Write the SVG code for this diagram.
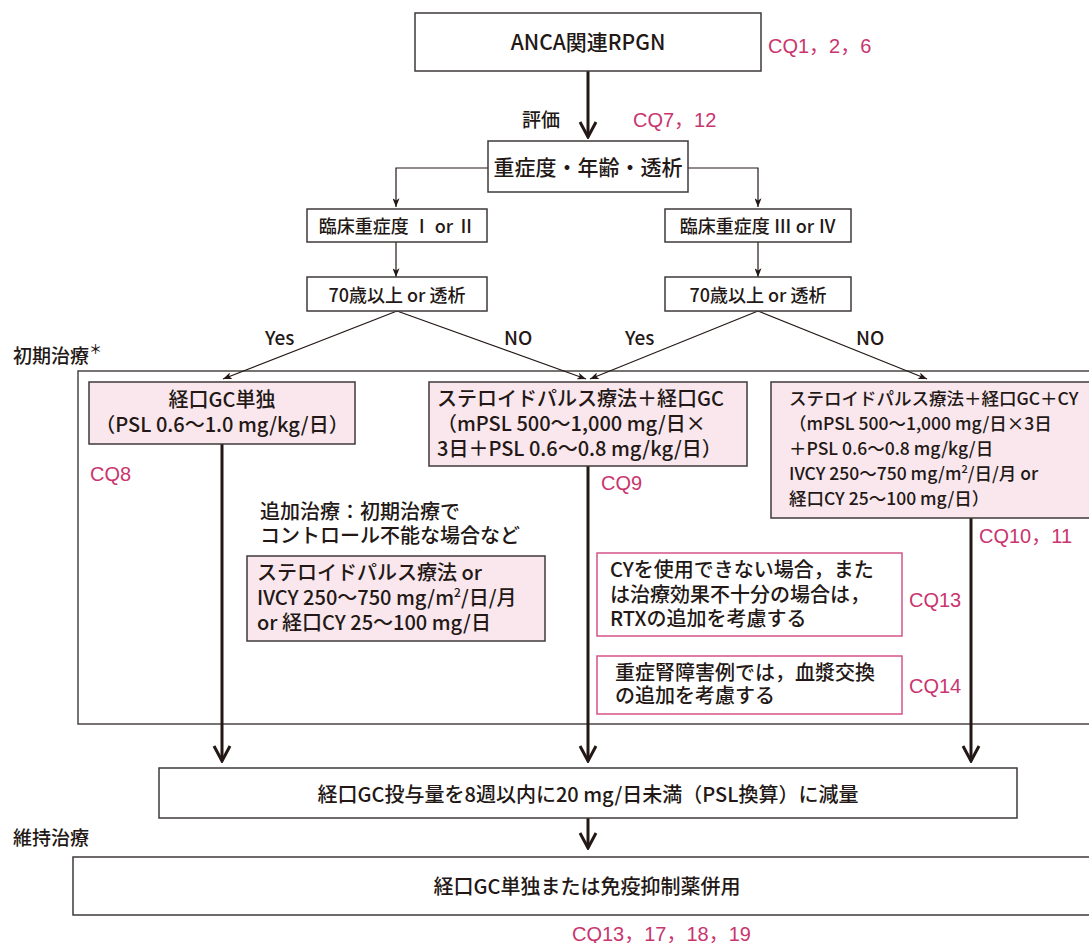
<svg xmlns="http://www.w3.org/2000/svg" width="1089" height="943" viewBox="0 0 1089 943">
<style>
text{font-family:"Noto Sans CJK JP","Liberation Sans",sans-serif;fill:#231815;font-weight:500;}
.t20{font-size:20px;}
.t21{font-size:21px;}
.t19{font-size:19px;}
.t18{font-size:18px;}
.t17{font-size:17.5px;}
.c{text-anchor:middle;}
.cq{font-family:"Liberation Sans","Noto Sans CJK JP",sans-serif;font-size:20px;fill:#c9356e;font-weight:normal;}
.box{fill:#ffffff;stroke:#3e3a39;stroke-width:1.5;}
.pink{fill:#f9e7ed;stroke:#3e3a39;stroke-width:1.5;}
.red{fill:#ffffff;stroke:#d6538a;stroke-width:1.5;}
.frame{fill:none;stroke:#4a4544;stroke-width:1.5;}
.thin{fill:none;stroke:#231815;stroke-width:1.2;}
.thick{fill:none;stroke:#231815;stroke-width:3;}
</style>
<defs>
<marker id="ah" viewBox="0 0 10 8" refX="10" refY="4" markerWidth="10" markerHeight="7" orient="auto" markerUnits="userSpaceOnUse">
<path d="M0,0 L10,4 L0,8 L2.5,4 z" fill="#231815"/>
</marker>
<marker id="chev" viewBox="-1 -1 18 20" refX="15" refY="9" markerWidth="18" markerHeight="20" orient="auto" markerUnits="userSpaceOnUse">
<path d="M0,1 L15,9 L0,17" fill="none" stroke="#231815" stroke-width="3"/>
</marker>
</defs>

<g id="frame-initial">
<path class="frame" d="M1095,371 H78 V724 H1095"/>
<text class="t19" x="13" y="363">初期治療<tspan font-size="13" dy="-9">＊</tspan></text>
</g>

<g id="connectors">
<line class="thick" x1="588" y1="71" x2="588" y2="137" marker-end="url(#chev)"/>
<polyline class="thin" points="488,168 396,168 396,207" marker-end="url(#ah)"/>
<polyline class="thin" points="688,168 758,168 758,207" marker-end="url(#ah)"/>
<line class="thin" x1="396" y1="242" x2="396" y2="277" marker-end="url(#ah)"/>
<line class="thin" x1="758" y1="242" x2="758" y2="277" marker-end="url(#ah)"/>
<line class="thin" x1="397" y1="311" x2="223" y2="379" marker-end="url(#ah)"/>
<line class="thin" x1="397" y1="311" x2="586" y2="379" marker-end="url(#ah)"/>
<line class="thin" x1="758" y1="311" x2="590" y2="379" marker-end="url(#ah)"/>
<line class="thin" x1="758" y1="311" x2="927" y2="379" marker-end="url(#ah)"/>
<line class="thick" x1="222" y1="444" x2="222" y2="761" marker-end="url(#chev)"/>
<line class="thick" x1="588" y1="466" x2="588" y2="761" marker-end="url(#chev)"/>
<line class="thick" x1="971" y1="518" x2="971" y2="761" marker-end="url(#chev)"/>
<line class="thick" x1="588" y1="818" x2="588" y2="848" marker-end="url(#chev)"/>
<text class="t19" x="522" y="127">評価</text>
<text class="t19" x="265" y="345">Yes</text>
<text class="t19" x="504" y="345">NO</text>
<text class="t19" x="625" y="345">Yes</text>
<text class="t19" x="856" y="345">NO</text>
</g>

<g id="n-anca">
<rect class="box" x="415" y="13" width="346" height="58"/>
<text class="t21 c" x="588" y="50">ANCA関連RPGN</text>
<text class="cq" x="768" y="53">CQ1，2，6</text>
</g>

<g id="cq7">
<text class="cq" x="633" y="127">CQ7，12</text>
</g>

<g id="n-eval">
<rect class="box" x="488" y="141" width="200" height="51"/>
<text class="t21 c" x="588" y="175">重症度・年齢・透析</text>
</g>

<g id="n-sev12">
<rect class="box" x="307" y="209" width="180" height="33"/>
<text class="t18 c" x="397" y="233">臨床重症度 Ⅰ or Ⅱ</text>
</g>

<g id="n-sev34">
<rect class="box" x="665" y="209" width="186" height="33"/>
<text class="t18 c" x="758" y="233">臨床重症度 Ⅲ or Ⅳ</text>
</g>

<g id="n-age-left">
<rect class="box" x="307" y="277" width="180" height="34"/>
<text class="t18 c" x="397" y="302">70歳以上 or 透析</text>
</g>

<g id="n-age-right">
<rect class="box" x="665" y="277" width="186" height="34"/>
<text class="t18 c" x="758" y="302">70歳以上 or 透析</text>
</g>

<g id="n-gc">
<rect class="pink" x="89" y="382" width="266" height="62"/>
<text class="t20 c" x="222" y="407">経口GC単独</text>
<text class="t20 c" x="222" y="432">（PSL 0.6～1.0 mg/kg/日）</text>
<text class="cq" x="90" y="481">CQ8</text>
</g>

<g id="n-pulse">
<rect class="pink" x="429" y="382" width="318" height="84"/>
<text class="t20" x="437" y="406">ステロイドパルス療法＋経口GC</text>
<text class="t20" x="437" y="431">（mPSL 500～1,000 mg/日×</text>
<text class="t20" x="437" y="456">3日＋PSL 0.6～0.8 mg/kg/日）</text>
<text class="cq" x="601" y="490">CQ9</text>
</g>

<g id="n-pulse-cy">
<rect class="pink" x="771" y="382" width="330" height="136"/>
<text class="t17" x="789" y="405">ステロイドパルス療法＋経口GC＋CY</text>
<text class="t17" x="789" y="430">（mPSL 500～1,000 mg/日×3日</text>
<text class="t17" x="789" y="455">＋PSL 0.6～0.8 mg/kg/日</text>
<text class="t17" x="789" y="480">IVCY 250～750 mg/m<tspan font-size="11" dy="-7">2</tspan><tspan dy="7">/日/月 or</tspan></text>
<text class="t17" x="789" y="505">経口CY 25～100 mg/日）</text>
<text class="cq" x="979" y="543">CQ10，11</text>
</g>

<g id="n-additional">
<text class="t20" x="260" y="519">追加治療：初期治療で</text>
<text class="t20" x="260" y="543">コントロール不能な場合など</text>
<rect class="pink" x="247" y="556" width="298" height="85"/>
<text class="t20" x="257" y="580">ステロイドパルス療法 or</text>
<text class="t20" x="257" y="605">IVCY 250～750 mg/m<tspan font-size="12" dy="-8">2</tspan><tspan dy="8">/日/月</tspan></text>
<text class="t20" x="257" y="630">or 経口CY 25～100 mg/日</text>
</g>

<g id="n-rtx">
<rect class="red" x="597" y="553" width="305" height="83"/>
<text class="t20" x="610" y="577">CYを使用できない場合，また</text>
<text class="t20" x="610" y="602">は治療効果不十分の場合は，</text>
<text class="t20" x="610" y="626">RTXの追加を考慮する</text>
<text class="cq" x="909" y="607">CQ13</text>
</g>

<g id="n-pe">
<rect class="red" x="597" y="656" width="305" height="58"/>
<text class="t20" x="615" y="680">重症腎障害例では，血漿交換</text>
<text class="t20" x="615" y="703">の追加を考慮する</text>
<text class="cq" x="909" y="693">CQ14</text>
</g>

<g id="n-taper">
<rect class="box" x="159" y="768" width="858" height="50"/>
<text class="t20 c" x="588" y="802">経口GC投与量を8週以内に20 mg/日未満（PSL換算）に減量</text>
</g>

<g id="n-maint">
<text class="t19" x="13" y="845">維持治療</text>
<path class="frame" d="M1095,857 H73 V915 H1095" style="stroke:#3e3a39"/>
<text class="t20 c" x="587" y="894">経口GC単独または免疫抑制薬併用</text>
<text class="cq" x="572" y="941">CQ13，17，18，19</text>
</g>
</svg>
